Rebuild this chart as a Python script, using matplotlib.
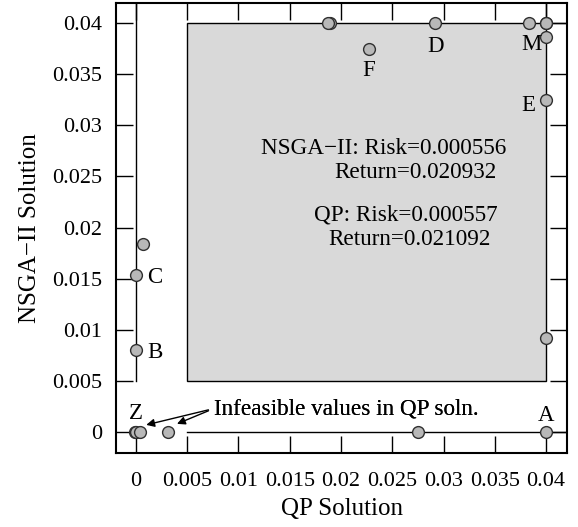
import matplotlib
matplotlib.use("Agg")
import matplotlib.pyplot as plt
from matplotlib.patches import Rectangle

plt.rcParams['font.family'] = ['Liberation Serif', 'DejaVu Serif']

# QP solution (x) vs NSGA-II solution (y) for each asset weight
qp_vals = [0.0189, 0.0187, 0.0292, 0.0383, 0.0400, 0.0400, 0.0400, 0.0227,
           0.0400, 0.0400, 0.0007, 0.0000, 0.0000, -0.0001, 0.0000, 0.0004,
           0.0031, 0.0275, 0.0400]
nsga_vals = [0.0400, 0.0400, 0.0400, 0.0400, 0.0400, 0.0400, 0.0386, 0.0375,
             0.0325, 0.0092, 0.0184, 0.0154, 0.0080, 0.0000, 0.0000, 0.0000,
             0.0000, 0.0000, 0.0000]

# point labels: (text, x, y, ha)
point_labels = [("Z", 0.0, 0.0018, 'center'), ("A", 0.040, 0.0016, 'center'),
                ("B", 0.0011, 0.0078, 'left'), ("C", 0.0011, 0.0151, 'left'),
                ("D", 0.0292, 0.03775, 'center'), ("M", 0.0386, 0.0379, 'center'),
                ("F", 0.0227, 0.0354, 'center'), ("E", 0.0383, 0.0319, 'center')]

tick_vals = [0, 0.005, 0.01, 0.015, 0.02, 0.025, 0.03, 0.035, 0.04]
tick_text = ["0", "0.005", "0.01", "0.015", "0.02", "0.025", "0.03", "0.035", "0.04"]

fig = plt.figure(figsize=(5.78, 5.27), dpi=100)
ax = fig.add_axes([0.2007, 0.1404, 0.7803, 0.8539])
lo, hi = -0.00205, 0.04196
ax.set_xlim(-0.00195, 0.04205)
ax.set_ylim(lo, hi)

# shaded region and guide lines
ax.add_patch(Rectangle((0.005, 0.005), 0.035, 0.035, facecolor='#d9d9d9',
                       edgecolor='black', linewidth=1.0, zorder=1))
ax.plot([0, 0], [0.005, hi], color='black', lw=1.0, zorder=2)
ax.plot([0.005, 0.05], [0, 0], color='black', lw=1.0, zorder=2)
ax.plot([0.04, 0.05], [0.04, 0.04], color='black', lw=1.0, zorder=2)
ax.plot([0.04, 0.04], [0.04, 0.05], color='black', lw=1.0, zorder=2)

ax.plot(qp_vals, nsga_vals, 'o', ms=8.5, mfc='#b8b8b8', mec='#303030',
        mew=1.0, zorder=3, clip_on=False)

for lab, x, y, ha in point_labels:
    ax.text(x, y, lab, fontsize=16.5, ha=ha, va='center', zorder=4)

ax.text(0.0242, 0.02775, "NSGA\u2212II: Risk=0.000556", fontsize=16.7,
        ha='center', va='center')
ax.text(0.0273, 0.0254, "Return=0.020932", fontsize=16.7, ha='center', va='center')
ax.text(0.0263, 0.0212, "QP: Risk=0.000557", fontsize=16.7, ha='center', va='center')
ax.text(0.0267, 0.0188, "Return=0.021092", fontsize=16.7, ha='center', va='center')

for tgt in [(0.0010, 0.0007), (0.0040, 0.0008)]:
    ax.annotate("Infeasible values in QP soln.", xy=tgt, xytext=(0.0076, 0.0023),
                fontsize=16.7, ha='left', va='center',
                arrowprops=dict(arrowstyle='-|>', color='black', lw=1.0,
                                mutation_scale=12, shrinkA=2, shrinkB=0,
                                relpos=(0, 0.5)))

ax.set_xticks(tick_vals)
ax.set_xticklabels(tick_text)
ax.set_yticks(tick_vals)
ax.set_yticklabels(tick_text)
ax.tick_params(direction='in', length=12, width=1.0, top=True, right=True,
               labelsize=16)
ax.tick_params(axis='x', pad=14)
ax.tick_params(axis='y', pad=10)
for s in ax.spines.values():
    s.set_linewidth(1.5)

ax.set_xlabel("QP Solution", fontsize=18, labelpad=5)
ax.set_ylabel("NSGA\u2212II Solution", fontsize=18, labelpad=8)

fig.savefig("out.png", dpi=100)
